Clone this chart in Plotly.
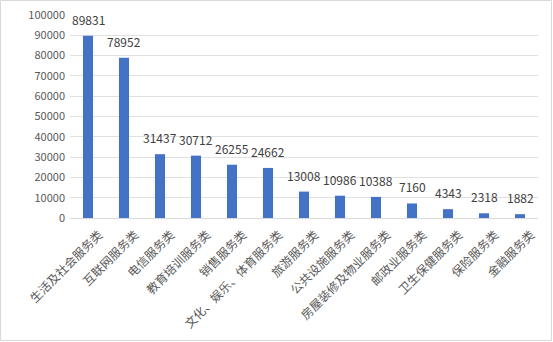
import plotly.graph_objects as go

categories = [
    "生活及社会服务类", "互联网服务类", "电信服务类", "教育培训服务类", "销售服务类",
    "文化、娱乐、体育服务类", "旅游服务类", "公共设施服务类", "房屋装修及物业服务类",
    "邮政业服务类", "卫生保健服务类", "保险服务类", "金融服务类",
]
values = [89831, 78952, 31437, 30712, 26255, 24662, 13008, 10986, 10388, 7160, 4343, 2318, 1882]
y_ticks = list(range(0, 100001, 10000))

W, H = 553, 342
ML, MR, MT, MB = 70, 15, 15, 124
pw, ph = W - ML - MR, H - MT - MB

font_family = "Noto Sans CJK SC, Noto Sans, sans-serif"
gray = "#595959"

fig = go.Figure(go.Bar(
    x=categories, y=values,
    marker=dict(color="#4472C4", line=dict(width=0)),
    width=0.28,
    hoverinfo="skip",
))

for c, v in zip(categories, values):
    fig.add_annotation(x=c, y=v, text=str(v), showarrow=False,
                       yanchor="bottom", yshift=6,
                       font=dict(size=12, color="#404040", family=font_family))

# outer chart border
fig.add_shape(type="rect", xref="paper", yref="paper",
              x0=(0.5 - ML) / pw, x1=(W - 1.5 - ML) / pw,
              y0=-(MB - 1.5) / ph,
              y1=1 + (MT - 0.5) / ph,
              line=dict(color="#D9D9D9", width=1), layer="below")

fig.update_layout(
    width=W, height=H,
    margin=dict(l=ML, r=MR, t=MT, b=MB, autoexpand=False),
    plot_bgcolor="white", paper_bgcolor="white",
    showlegend=False,
    font=dict(family=font_family, color=gray, size=11),
    xaxis=dict(tickangle=-45, tickfont=dict(size=12, color=gray),
               ticklabelshift=11, ticklabelstandoff=4, automargin=False,
               showline=True, linecolor="#D9D9D9", linewidth=1,
               ticks="", showgrid=False, range=[-0.5, len(categories) - 0.5]),
    yaxis=dict(range=[0, 100000], tickvals=y_ticks, ticktext=[str(t) for t in y_ticks],
               showgrid=True, gridcolor="#E0E0E0", gridwidth=1, automargin=False,
               zeroline=False, showline=False, ticks="",
               tickfont=dict(size=11, color=gray), ticklabelstandoff=4),
)

fig.write_html("out.html")
